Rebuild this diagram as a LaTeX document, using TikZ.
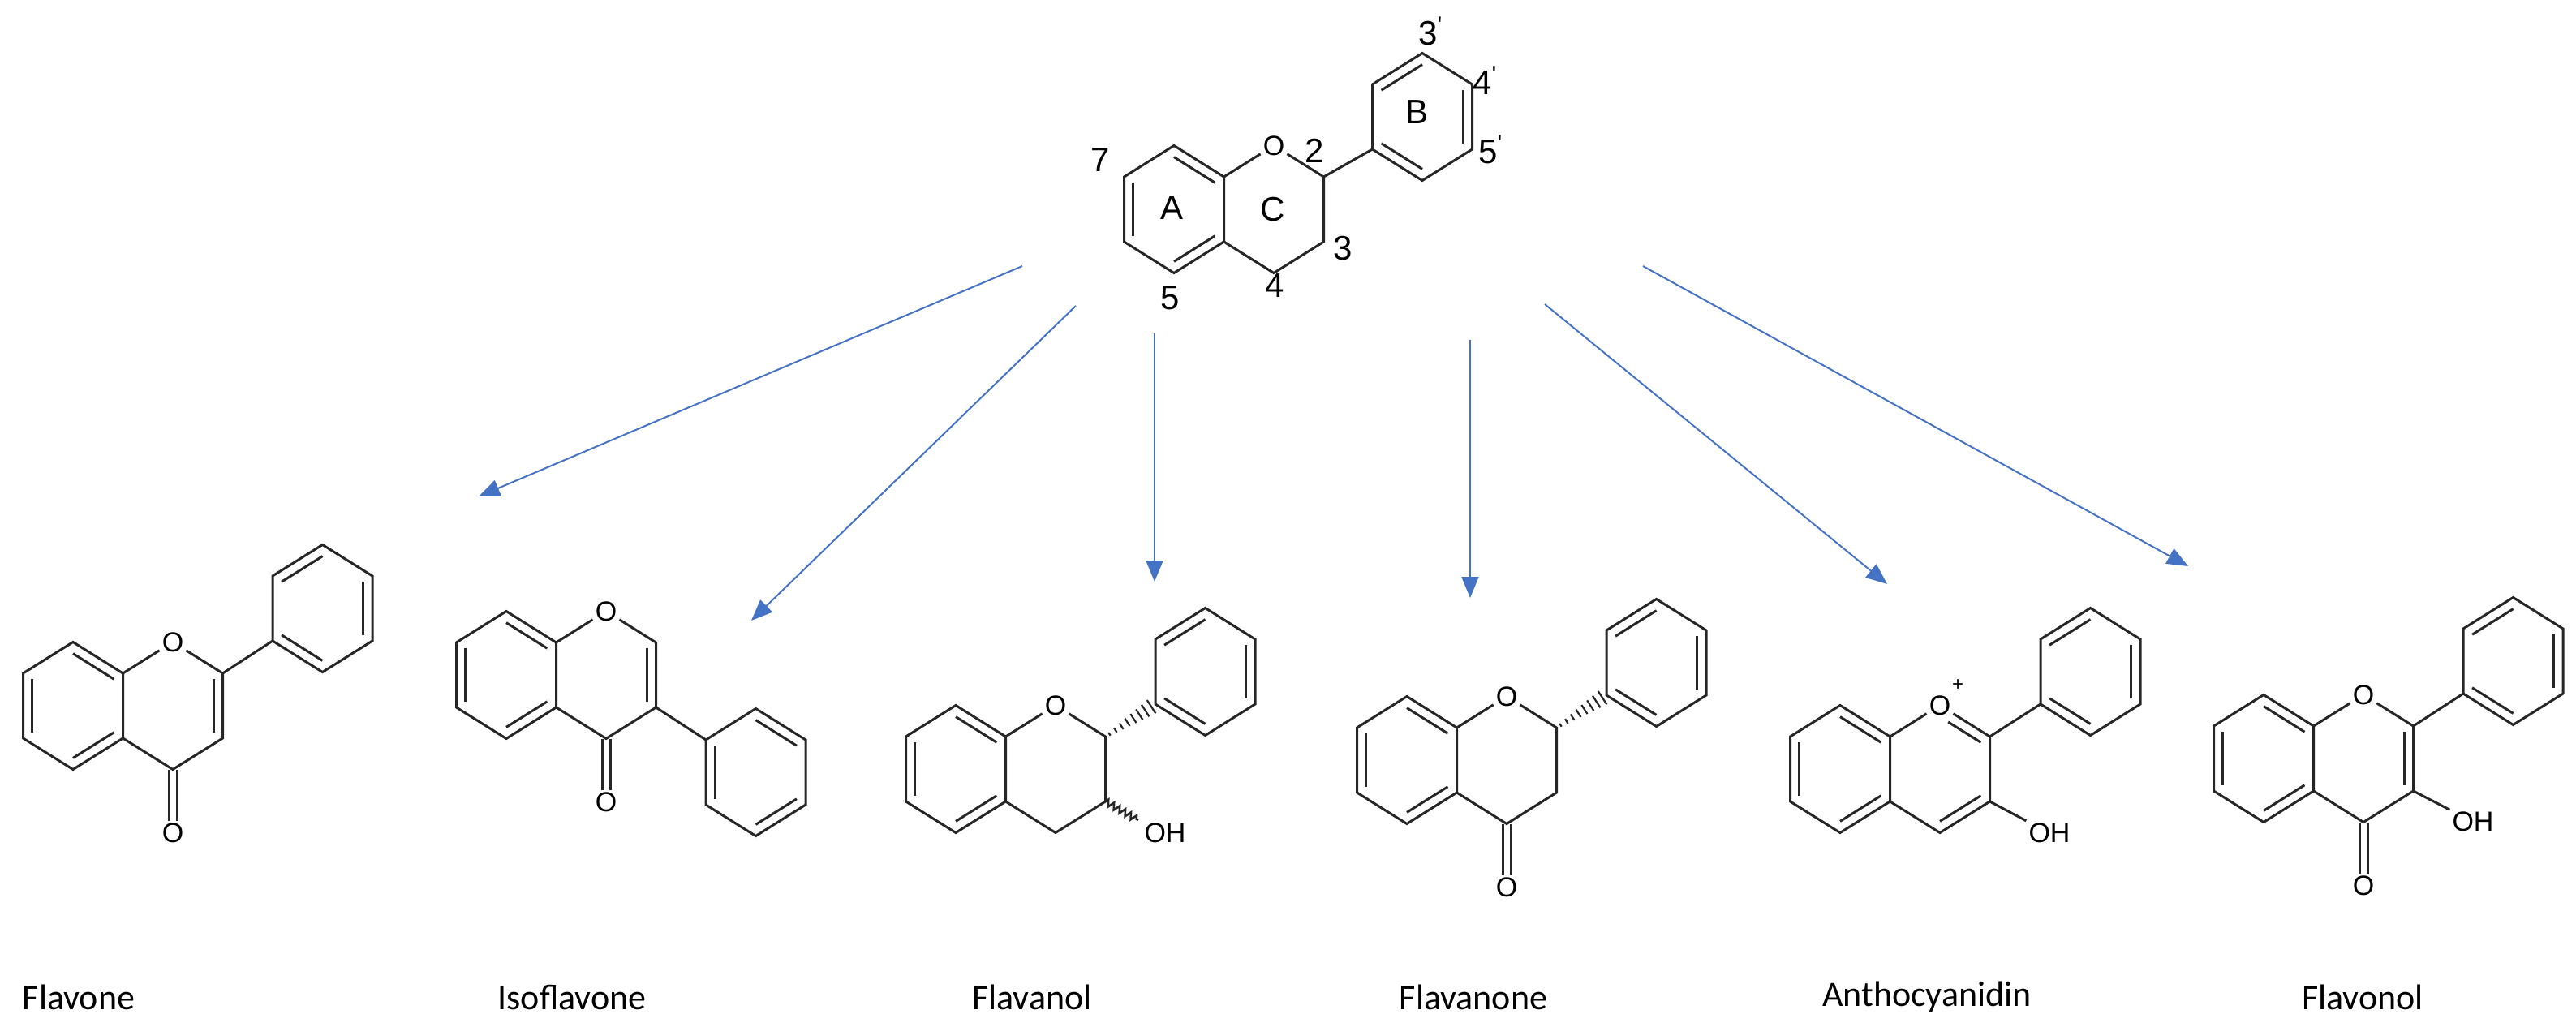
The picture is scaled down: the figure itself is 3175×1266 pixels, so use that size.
\documentclass[tikz,border=0pt]{standalone}
\usepackage{fontspec}
\setmainfont{Carlito}
\newfontfamily\arialf{Liberation Sans}
\usetikzlibrary{calc,arrows.meta,decorations.pathmorphing}
\definecolor{arrowblue}{RGB}{68,114,196}
\newcommand\atomfont{\arialf\fontsize{34}{36}\selectfont}
\newcommand\numfont{\arialf\fontsize{42}{44}\selectfont}
\newcommand\pr{\raisebox{14pt}{\arialf\fontsize{30}{30}\selectfont\textquotesingle}}
\newcommand\inb[3]{\draw[bond] ($(#1)!0.18!(#3)$) -- ($(#2)!0.18!(#3)$);}
\newcommand\chromring[3]{%
  \coordinate (#1-c) at (#2,#3);
  \coordinate (#1-cc) at ([shift={(123,0)}]#1-c);
  \coordinate (#1-a1) at ([shift={(0,-78.5)}]#1-c);
  \coordinate (#1-a2) at ([shift={(61.5,-40)}]#1-c);
  \coordinate (#1-a3) at ([shift={(61.5,40)}]#1-c);
  \coordinate (#1-a4) at ([shift={(0,78.5)}]#1-c);
  \coordinate (#1-a5) at ([shift={(-61.5,40)}]#1-c);
  \coordinate (#1-a6) at ([shift={(-61.5,-40)}]#1-c);
  \node[atom] (#1-O) at ([shift={(123,-78.5)}]#1-c) {O};
  \coordinate (#1-2) at ([shift={(184.5,-40)}]#1-c);
  \coordinate (#1-3) at ([shift={(184.5,40)}]#1-c);
  \coordinate (#1-4) at ([shift={(123,78.5)}]#1-c);
  \draw[bond] (#1-a1)--(#1-a2)--(#1-a3)--(#1-a4)--(#1-a5)--(#1-a6)--cycle;
  \draw[bond] (#1-a2)--(#1-O)--(#1-2)--(#1-3)--(#1-4)--(#1-a3);
  \inb{#1-a5}{#1-a6}{#1-c}\inb{#1-a1}{#1-a2}{#1-c}\inb{#1-a3}{#1-a4}{#1-c}}
\newcommand\phenpts[3]{%
  \coordinate (#1-c) at (#2,#3);
  \coordinate (#1-p1) at ([shift={(0,-78.5)}]#1-c);
  \coordinate (#1-p2) at ([shift={(61.5,-40)}]#1-c);
  \coordinate (#1-p3) at ([shift={(61.5,40)}]#1-c);
  \coordinate (#1-p4) at ([shift={(0,78.5)}]#1-c);
  \coordinate (#1-p5) at ([shift={(-61.5,40)}]#1-c);
  \coordinate (#1-p6) at ([shift={(-61.5,-40)}]#1-c);
  \draw[bond] (#1-p1)--(#1-p2)--(#1-p3)--(#1-p4)--(#1-p5)--(#1-p6)--cycle;}
\newcommand\phenA[3]{\phenpts{#1}{#2}{#3}\inb{#1-p6}{#1-p1}{#1-c}\inb{#1-p2}{#1-p3}{#1-c}\inb{#1-p4}{#1-p5}{#1-c}}
\newcommand\phenB[3]{\phenpts{#1}{#2}{#3}\inb{#1-p1}{#1-p2}{#1-c}\inb{#1-p5}{#1-p6}{#1-c}\inb{#1-p3}{#1-p4}{#1-c}}
\newcommand\hashb[2]{\foreach \t in {0.08,0.2,...,0.95}{\draw[line width=2.2pt,black!85] ($(#1)!\t!(#2)!{1.5pt+9pt*\t}!90:(#2)$) -- ($(#1)!\t!(#2)!{1.5pt+9pt*\t}!-90:(#2)$);}}
\newcommand\carbonyl[2]{\node[atom] (#1-oo) at #2 {O};
  \draw[bond] ([xshift=-5pt]#1-4) -- ([xshift=-5pt]#1-oo.north);
  \draw[bond] ([xshift=5pt]#1-4) -- ([xshift=5pt]#1-oo.north);}
\begin{document}
\begin{tikzpicture}[x=1pt,y=-1pt,
  bond/.style={line width=3pt,black!85},
  atom/.style={font=\atomfont,inner sep=3pt},
  num/.style={font=\numfont,inner sep=0pt},
  lab/.style={font=\fontsize{44}{48}\selectfont,inner sep=0pt},
  arr/.style={draw=arrowblue,line width=2pt,-{Triangle[length=26pt,width=21pt,fill=arrowblue]}}]
\useasboundingbox (0,0) rectangle (3175,1266);
% top molecule
\chromring{t}{1447}{258}
\phenA{tb}{1753}{144}
\draw[bond] (t-2) -- (tb-p5);
\node[num] (n7) at (1356,197) {7};
\node[num] (n5) at (1442,367) {5};
\node[num] (n4) at (1571,352) {4};
\node[num] (n3) at (1655,306) {3};
\node[num] (n2) at (1620,186) {2};
\node[num] (nA) at (1444,256) {A};
\node[num] (nC) at (1569,258) {C};
\node[num] (nB) at (1746,138) {B};
\node[num,anchor=west] (n3p) at (1748,38) {3\pr};
\node[num,anchor=west] (n4p) at (1815,99) {4\pr};
\node[num,anchor=west] (n5p) at (1822,184) {5\pr};
% flavone
\chromring{fl}{90}{870}
\inb{fl-2}{fl-3}{fl-cc}
\carbonyl{fl}{(213,1027)}
\phenA{flp}{397.5}{750}
\draw[bond] (fl-2) -- (flp-p5);
% isoflavone
\chromring{iso}{624}{832}
\inb{iso-2}{iso-3}{iso-cc}
\carbonyl{iso}{(747,989)}
\phenB{isop}{931.5}{952}
\draw[bond] (iso-3) -- (isop-p6);
% flavanol
\chromring{fv}{1178}{948}
\phenA{fvp}{1485.5}{828}
\hashb{fv-2}{fvp-p5}
\node[atom] (fv-OH) at (1436,1027) {OH};
\coordinate (fv-w) at (1403,1011);
\draw[bond,line width=2.6pt,decorate,decoration={zigzag,segment length=8pt,amplitude=4pt}] (fv-3) -- (fv-w);
% flavanone
\chromring{fn}{1734}{937}
\carbonyl{fn}{(1857,1094)}
\phenA{fnp}{2041.5}{817}
\hashb{fn-2}{fnp-p5}
% anthocyanidin
\chromring{an}{2268}{948}
\draw[bond,shorten <=12pt] ($(an-O)!0.18!(an-cc)$) -- ($(an-2)!0.18!(an-cc)$);
\inb{an-3}{an-4}{an-cc}
\node[font=\arialf\fontsize{24}{24}\selectfont,inner sep=0pt] (an-plus) at (2413,845) {+};
\phenA{anp}{2576.5}{828}
\draw[bond] (an-2) -- (anp-p5);
\node[atom] (an-OH) at (2526,1027) {OH};
\draw[bond] (an-3) -- (an-OH);
% flavonol
\chromring{fo}{2790}{935}
\inb{fo-2}{fo-3}{fo-cc}
\carbonyl{fo}{(2913,1092)}
\phenA{fop}{3097.5}{815}
\draw[bond] (fo-2) -- (fop-p5);
\node[atom] (fo-OH) at (3048,1013) {OH};
\draw[bond] (fo-3) -- (fo-OH);
% arrows
\coordinate (s1) at (1260,328); \coordinate (e1) at (590,612);
\coordinate (s2) at (1326,377); \coordinate (e2) at (926,765);
\coordinate (s3) at (1423,411); \coordinate (e3) at (1423,717);
\coordinate (s4) at (1812,419); \coordinate (e4) at (1812,737);
\coordinate (s5) at (1904,375); \coordinate (e5) at (2326,720);
\coordinate (s6) at (2025,328); \coordinate (e6) at (2697,698);
\foreach \i in {1,...,6} {\draw[arr] (s\i) -- (e\i);}
% names
\node[lab] (L1) at (97,1229) {Flavone};
\node[lab] (L2) at (705,1229) {Isoflavone};
\node[lab] (L3) at (1272,1229) {Flavanol};
\node[lab] (L4) at (1816,1229) {Flavanone};
\node[lab] (L5) at (2375,1229) {Anthocyanidin};
\node[lab] (L6) at (2912,1229) {Flavonol};
\end{tikzpicture}
\end{document}
